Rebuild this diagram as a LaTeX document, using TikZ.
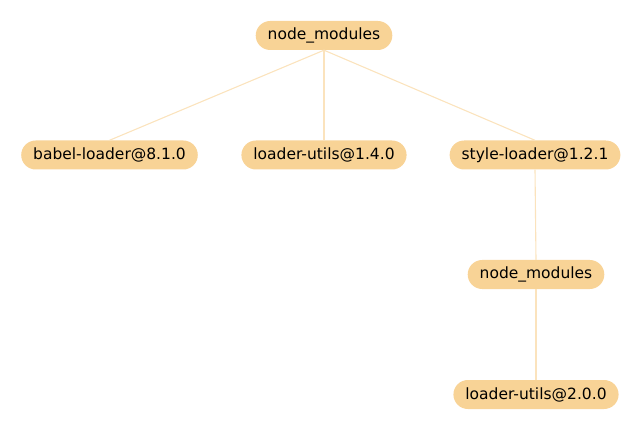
\documentclass[tikz,border=0pt]{standalone}
\usepackage{fontspec}
\setmainfont{DejaVu Sans}
\definecolor{pillfill}{HTML}{F8D396}
\definecolor{edgecol}{HTML}{FBE3BD}
\tikzset{
  pill/.style={fill=pillfill, rounded corners=14.5pt, minimum height=29pt, inner xsep=12pt, inner ysep=0pt, font=\fontsize{15.5}{18}\selectfont, text=black},
  edge/.style={draw=edgecol, line width=1.1pt}
}
\begin{document}
\begin{tikzpicture}[x=1pt,y=-1pt]
\useasboundingbox (0,0) rectangle (642,430);
\node[pill] (root) at (324,35.5) {node\_modules};
\node[pill] (babel) at (109.5,155) {babel-loader@8.1.0};
\node[pill] (lu1) at (324,155) {loader-utils@1.4.0};
\node[pill] (style) at (535,155) {style-loader@1.2.1};
\node[pill] (nm2) at (536,274.5) {node\_modules};
\node[pill] (lu2) at (536,394.5) {loader-utils@2.0.0};
\draw[edge] (root.south) -- (babel.north);
\draw[edge] (root.south) -- (lu1.north);
\draw[edge] (root.south) -- (style.north);
\draw[edge] (style.south) -- (nm2.north);
\draw[edge] (nm2.south) -- (lu2.north);
\end{tikzpicture}
\end{document}
